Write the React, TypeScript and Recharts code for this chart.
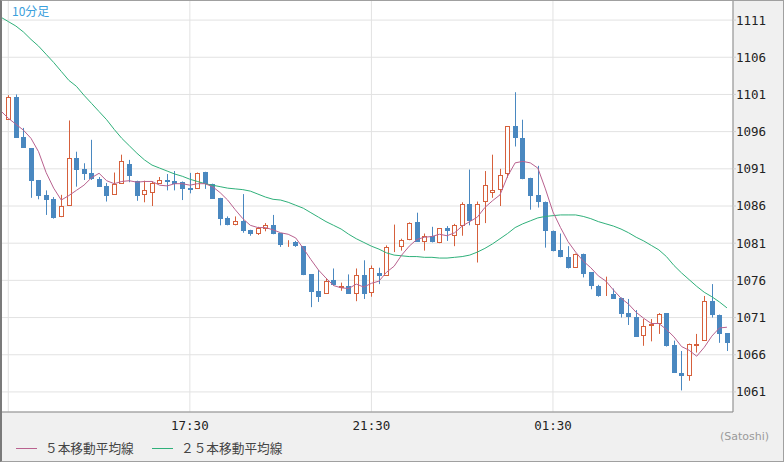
import { ComposedChart, Bar, Line, XAxis, YAxis, CartesianGrid } from "recharts";

// 10-minute candles, 13:30 -> 05:20
const opens = [
  1097.6, 1100.6, 1095.3, 1093.8, 1089.5, 1087.5, 1086.9, 1084.5, 1086.0, 1092.5,
  1091.0, 1090.4, 1089.6, 1088.7, 1087.5, 1089.0, 1091.6, 1089.3, 1087.5, 1087.7,
  1089.0, 1089.5, 1089.4, 1089.2, 1088.4, 1088.3, 1090.6, 1089.0, 1087.1, 1084.4,
  1083.4, 1084.05, 1082.8, 1082.3, 1082.9, 1083.5, 1082.35, 1081.0, 1081.2, 1080.6,
  1076.8, 1074.6, 1074.2, 1076.0, 1075.0, 1075.2, 1074.2, 1076.7, 1074.3, 1077.0,
  1076.6, 1080.5, 1080.5, 1081.4, 1083.8, 1081.2, 1082.0, 1081.0, 1083.0, 1081.9,
  1083.3, 1086.3, 1083.5, 1086.5, 1087.7, 1088.1, 1090.3, 1096.7, 1095.2, 1089.8,
  1087.5, 1086.6, 1082.7, 1080.1, 1079.2, 1077.7, 1079.6, 1077.1, 1075.2, 1073.9,
  1074.1, 1073.6, 1071.6, 1071.1, 1068.5, 1069.8, 1070.1, 1071.6, 1067.3, 1063.6,
  1063.2, 1067.2, 1067.9, 1073.2, 1071.4, 1068.9,
];
const highs = [
  1100.9, 1101.0, 1096.5, 1093.8, 1089.5, 1088.1, 1087.2, 1087.5, 1097.5, 1093.3,
  1091.75, 1094.9, 1089.9, 1089.1, 1090.5, 1092.9, 1092.2, 1089.4, 1089.4, 1089.3,
  1089.9, 1090.3, 1090.7, 1089.3, 1090.45, 1090.5, 1090.6, 1089.0, 1087.1, 1084.6,
  1084.6, 1087.6, 1082.8, 1083.2, 1083.7, 1084.8, 1082.35, 1081.4, 1081.3, 1080.6,
  1076.8, 1077.4, 1076.3, 1077.6, 1075.7, 1076.8, 1077.6, 1078.7, 1078.0, 1077.7,
  1080.7, 1083.5, 1081.6, 1083.8, 1085.1, 1082.3, 1083.2, 1083.0, 1083.3, 1083.6,
  1086.5, 1090.9, 1086.6, 1090.7, 1092.9, 1091.0, 1096.7, 1101.3, 1097.6, 1089.8,
  1091.4, 1086.6, 1082.7, 1082.3, 1080.6, 1079.6, 1079.6, 1077.1, 1075.4, 1076.5,
  1074.9, 1073.7, 1073.5, 1072.0, 1070.8, 1070.8, 1071.6, 1071.6, 1067.9, 1066.5,
  1067.5, 1068.8, 1073.9, 1075.5, 1071.4, 1068.9,
];
const lows = [
  1097.6, 1095.2, 1093.8, 1087.1, 1086.9, 1084.8, 1084.3, 1084.5, 1086.0, 1088.6,
  1089.5, 1089.5, 1088.6, 1086.6, 1087.5, 1089.0, 1089.2, 1086.7, 1086.5, 1086.0,
  1089.0, 1088.1, 1088.1, 1086.8, 1087.7, 1088.3, 1088.3, 1087.0, 1083.4, 1083.4,
  1083.4, 1082.4, 1082.0, 1082.1, 1082.6, 1082.2, 1080.5, 1080.5, 1080.5, 1076.7,
  1072.4, 1073.1, 1074.2, 1075.3, 1074.6, 1074.2, 1073.2, 1073.5, 1073.8, 1075.5,
  1076.6, 1079.8, 1080.0, 1081.4, 1081.2, 1080.0, 1081.1, 1081.0, 1081.3, 1080.6,
  1082.0, 1083.4, 1078.4, 1083.7, 1087.1, 1086.0, 1089.8, 1094.0, 1089.6, 1085.5,
  1085.8, 1080.4, 1079.9, 1079.1, 1077.6, 1077.7, 1076.4, 1074.8, 1073.8, 1073.9,
  1073.5, 1071.0, 1070.0, 1068.4, 1067.2, 1067.8, 1068.8, 1067.1, 1063.6, 1061.2,
  1062.5, 1066.3, 1067.9, 1071.0, 1067.6, 1066.5,
];
const closes = [
  1100.6, 1095.2, 1093.8, 1089.4, 1087.4, 1086.8, 1084.4, 1086.0, 1092.4, 1090.9,
  1090.3, 1089.6, 1088.6, 1087.4, 1089.0, 1092.0, 1090.0, 1087.4, 1088.2, 1089.1,
  1089.5, 1089.2, 1089.0, 1088.35, 1088.1, 1090.5, 1088.9, 1087.0, 1084.3, 1083.4,
  1084.05, 1082.7, 1082.3, 1083.1, 1083.5, 1082.2, 1080.8, 1081.2, 1080.6, 1076.7,
  1074.5, 1073.8, 1075.9, 1075.4, 1075.2, 1074.2, 1076.7, 1074.2, 1077.7, 1076.55,
  1080.5, 1080.6, 1081.4, 1083.7, 1081.2, 1081.9, 1081.1, 1083.0, 1082.7, 1083.4,
  1086.3, 1084.0, 1086.3, 1088.8, 1088.1, 1090.2, 1096.7, 1095.2, 1089.6, 1087.4,
  1086.6, 1082.6, 1080.0, 1079.1, 1077.6, 1079.6, 1076.9, 1075.2, 1073.9, 1074.0,
  1073.5, 1071.5, 1071.1, 1068.4, 1069.8, 1070.1, 1071.5, 1067.2, 1063.6, 1063.2,
  1067.4, 1067.4, 1073.2, 1071.3, 1068.8, 1067.6,
];

// moving averages; first value belongs to the bar just before the window
const ma5 = [
  1098.8,
  1097.8, 1097.0, 1096.2, 1095.1, 1093.3, 1090.5, 1088.4, 1086.8, 1087.4, 1088.1,
  1088.8, 1089.8, 1090.4, 1089.4, 1089.0, 1089.3, 1089.4, 1089.2, 1089.3, 1089.3,
  1088.8, 1088.7, 1089.0, 1089.0, 1088.8, 1089.0, 1089.0, 1088.6, 1087.8, 1086.8,
  1085.5, 1084.3, 1083.4, 1083.1, 1083.1, 1082.8, 1082.4, 1082.2, 1081.7, 1080.3,
  1078.8, 1077.4, 1076.3, 1075.3, 1075.0, 1074.9, 1075.5, 1075.1, 1075.6, 1075.9,
  1077.1, 1077.9, 1079.4, 1080.6, 1081.5, 1081.8, 1081.9, 1082.2, 1082.0, 1082.4,
  1083.3, 1083.9, 1084.5, 1085.8, 1086.7, 1087.5, 1090.0, 1091.8, 1092.0, 1091.8,
  1091.1, 1088.3, 1085.2, 1083.1, 1081.2, 1079.8, 1078.6, 1077.7, 1076.6, 1075.9,
  1074.7, 1073.6, 1072.8, 1071.7, 1070.9, 1070.2, 1070.2, 1069.4, 1068.4, 1067.1,
  1066.6, 1065.8, 1067.0, 1068.5, 1069.6, 1069.7,
];
const ma25 = [
  1111.4,
  1110.8, 1110.2, 1109.4, 1108.4, 1107.5, 1106.4, 1105.3, 1104.1, 1102.9, 1102.1,
  1100.9, 1099.8, 1098.7, 1097.6, 1096.3, 1095.1, 1094.1, 1093.1, 1092.2, 1091.5,
  1091.1, 1090.7, 1090.3, 1090.0, 1089.6, 1089.3, 1089.0, 1088.8, 1088.6, 1088.4,
  1088.3, 1088.2, 1088.0, 1087.6, 1087.2, 1086.9, 1086.8, 1086.5, 1086.1, 1085.7,
  1085.1, 1084.5, 1083.9, 1083.4, 1082.9, 1082.2, 1081.6, 1081.1, 1080.6, 1080.2,
  1079.7, 1079.4, 1079.3, 1079.2, 1079.2, 1079.1, 1079.1, 1079.0, 1079.0, 1079.1,
  1079.2, 1079.4, 1079.8, 1080.3, 1080.9, 1081.6, 1082.3, 1083.1, 1083.6, 1084.0,
  1084.4, 1084.6, 1084.7, 1084.8, 1084.8, 1084.8, 1084.6, 1084.3, 1083.9, 1083.6,
  1083.3, 1082.9, 1082.4, 1081.8, 1081.3, 1080.7, 1080.1, 1079.2, 1078.0, 1077.0,
  1076.1, 1075.2, 1074.4, 1073.8, 1073.1, 1072.3,
];

const timeTicks = [0, 24, 48, 72];
const timeLabels = ["", "17:30", "21:30", "01:30"];
const priceTicks = [1061, 1066, 1071, 1076, 1081, 1086, 1091, 1096, 1101, 1106, 1111];

const UP = "#d6603c";
const DOWN = "#4a88c0";
const MA5_COLOR = "#b9628f";
const MA25_COLOR = "#2fb07a";
const MONO = "'DejaVu Sans Mono', monospace";
const JP = "'Noto Sans CJK JP', sans-serif";

const rows = ma5.map((_, k) => {
  const i = k - 1;
  const has = i >= 0;
  return {
    i,
    ma5: ma5[k],
    ma25: ma25[k],
    o: has ? opens[i] : null,
    h: has ? highs[i] : null,
    l: has ? lows[i] : null,
    c: has ? closes[i] : null,
    range: has ? [lows[i], highs[i]] : null,
  };
});

function Candle(props: any) {
  const { x, y, width, height, payload } = props;
  if (!payload || payload.o == null || height == null) return null;
  const { o, h, l, c } = payload;
  const k = height / (h - l);
  const py = (v: number) => y + (h - v) * k;
  const col = Math.round(x + width / 2);
  const up = c >= o;
  const top = Math.round(py(Math.max(o, c)));
  const bot = Math.round(py(Math.min(o, c)));
  const color = up ? UP : DOWN;
  return (
    <g>
      <line x1={col + 0.5} x2={col + 0.5} y1={y} y2={y + height} stroke={color} strokeWidth={1} />
      {up ? (
        <rect
          x={col - 1.5}
          y={top + 0.5}
          width={4}
          height={Math.max(bot - top - 1, 0)}
          fill="#fff"
          stroke={color}
          strokeWidth={1}
        />
      ) : (
        <rect x={col - 2} y={top} width={5} height={Math.max(bot - top, 1)} fill={color} />
      )}
    </g>
  );
}

export default function App() {
  return (
    <div style={{ position: "relative", width: 784, height: 462, background: "#f0f0f0" }}>
      <style>{"body{margin:0}"}</style>
      <ComposedChart
        width={784}
        height={462}
        data={rows}
        margin={{ top: 0, right: 0, bottom: 0, left: 1 }}
      >
        <CartesianGrid stroke="#e2e2e2" fill="#fff" />
        <XAxis
          type="number"
          dataKey="i"
          domain={[-0.965, 95.8]}
          allowDataOverflow
          ticks={timeTicks}
          interval={0}
          tickFormatter={(v: number) => timeLabels[timeTicks.indexOf(v)] ?? ""}
          axisLine={{ stroke: "#8a8a8a" }}
          tickLine={false}
          tickSize={0}
          tickMargin={9}
          height={50}
          tick={{ fontSize: 12.5, fill: "#222", fontFamily: MONO }}
        />
        <YAxis
          orientation="right"
          domain={[1058.3, 1113.7]}
          allowDataOverflow
          ticks={priceTicks}
          interval={0}
          width={51}
          tickSize={3}
          tickMargin={0}
          tickLine={{ stroke: "#cfcfcf" }}
          axisLine={{ stroke: "#8a8a8a" }}
          tick={{ fontSize: 12.5, fill: "#222", fontFamily: MONO }}
        />
        <Bar dataKey="range" barSize={5} shape={<Candle />} isAnimationActive={false} />
        <Line
          type="linear"
          dataKey="ma25"
          stroke={MA25_COLOR}
          strokeWidth={1}
          dot={false}
          activeDot={false}
          isAnimationActive={false}
        />
        <Line
          type="linear"
          dataKey="ma5"
          stroke={MA5_COLOR}
          strokeWidth={1}
          dot={false}
          activeDot={false}
          isAnimationActive={false}
        />
      </ComposedChart>

      <div
        style={{
          position: "absolute",
          left: 12,
          top: 2,
          fontSize: 12,
          color: "#3aa0dc",
          fontFamily: JP,
        }}
      >
        10分足
      </div>

      <div
        style={{
          position: "absolute",
          left: 720,
          top: 430,
          fontSize: 11,
          color: "#9a9a9a",
          fontFamily: "'DejaVu Sans', sans-serif",
        }}
      >
        (Satoshi)
      </div>

      <div style={{ position: "absolute", left: 16, top: 448, width: 21, height: 1, background: MA5_COLOR }} />
      <div
        style={{ position: "absolute", left: 45, top: 439, fontSize: 12.7, color: "#444", fontFamily: JP, lineHeight: "18px" }}
      >
        ５本移動平均線
      </div>
      <div style={{ position: "absolute", left: 152, top: 448, width: 21, height: 1, background: MA25_COLOR }} />
      <div
        style={{ position: "absolute", left: 181, top: 439, fontSize: 12.7, color: "#444", fontFamily: JP, lineHeight: "18px" }}
      >
        ２５本移動平均線
      </div>

      <div
        style={{
          position: "absolute",
          left: 0,
          top: 0,
          width: 784,
          height: 462,
          boxSizing: "border-box",
          border: "1px solid #a0a0a0",
          borderLeft: "2px solid #7a7a7a",
          pointerEvents: "none",
        }}
      />
    </div>
  );
}
